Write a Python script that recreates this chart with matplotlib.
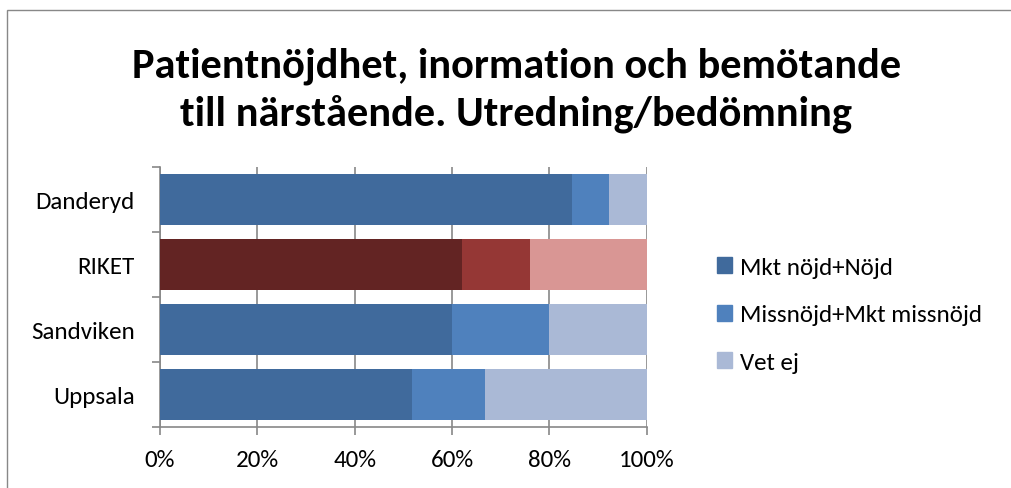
import matplotlib.pyplot as plt
from matplotlib.patches import Patch, Rectangle

# data, top to bottom as in the chart
kategorier = ['Danderyd', 'RIKET', 'Sandviken', 'Uppsala']
nojd = [84.6, 62.0, 60.0, 51.7]
missnojd = [7.7, 14.0, 20.0, 15.0]
vet_ej = [7.7, 24.0, 20.0, 33.3]
serier = ['Mkt nöjd+Nöjd', 'Missnöjd+Mkt missnöjd', 'Vet ej']

bla = ['#406a9c', '#4f81bd', '#aab9d6']
rod = ['#632423', '#953735', '#d99694']

plt.rcParams['font.family'] = ['Carlito', 'Liberation Sans', 'DejaVu Sans']

fig = plt.figure(figsize=(10.12, 4.89), dpi=100)
ax = fig.add_axes([0.158, 0.1247, 0.481, 0.5317])

y = list(range(len(kategorier)))[::-1]
for i, namn in enumerate(kategorier):
    farger = rod if namn == 'RIKET' else bla
    vals = [nojd[i], missnojd[i], vet_ej[i]]
    left = 0
    for v, c in zip(vals, farger):
        ax.barh(y[i], v, left=left, height=0.77, color=c, zorder=3)
        left += v

ax.set_xlim(0, 100)
ax.set_ylim(-0.5, len(kategorier) - 0.5)
ax.set_xticks([0, 20, 40, 60, 80, 100])
ax.set_xticklabels(['0%', '20%', '40%', '60%', '80%', '100%'], fontsize=18)
ax.set_yticks(y)
ax.set_yticklabels(kategorier, fontsize=18)
ax.set_yticks([k - 0.5 for k in range(len(kategorier) + 1)], minor=True)
ax.tick_params(axis='y', which='major', length=0, pad=18)
ax.tick_params(axis='y', which='minor', length=6, color='#888888', width=1.2)
ax.tick_params(axis='x', length=6, color='#888888', width=1.2, pad=10)
ax.grid(axis='x', color='#888888', linewidth=1.2, zorder=0)
for s in ['top', 'right']:
    ax.spines[s].set_visible(False)
for s in ['left', 'bottom']:
    ax.spines[s].set_color('#888888')
    ax.spines[s].set_linewidth(1.2)

fig.text(0.510, 0.815, 'Patientnöjdhet, inormation och bemötande\ntill närstående. Utredning/bedömning',
         ha='center', va='center', fontsize=30.5, fontweight='bold', linespacing=1.32)

handles = [Patch(color=c) for c in bla]
fig.legend(handles, serier, loc='center left', bbox_to_anchor=(0.686, 0.354),
           frameon=False, fontsize=18, handlelength=0.6, handleheight=0.6,
           handletextpad=0.35, labelspacing=1.05)

fig.patches.append(Rectangle((0.007, -0.1), 1.2, 1.0765, transform=fig.transFigure,
                             fill=False, edgecolor='#888888', linewidth=1))

fig.savefig('out.png', dpi=100)
